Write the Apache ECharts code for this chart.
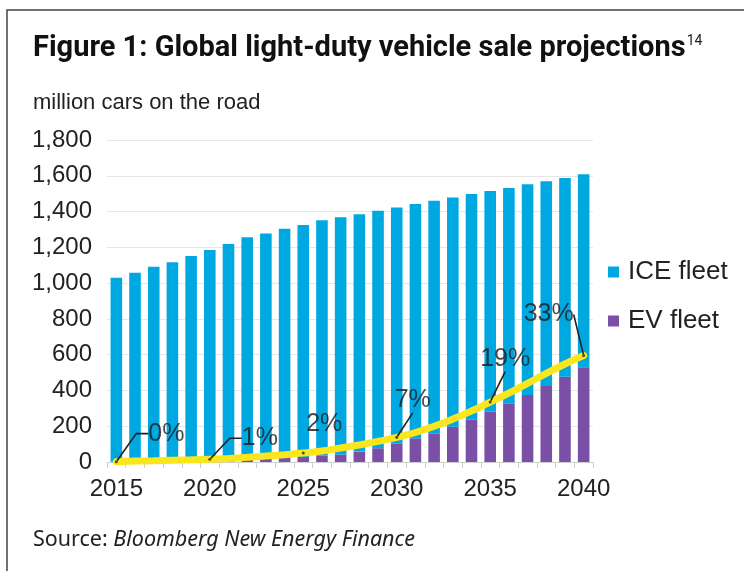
<!DOCTYPE html>
<html>
<head>
<meta charset="utf-8">
<script src="https://cdn.jsdelivr.net/npm/echarts@6/dist/echarts.min.js"></script>
<style>
    html, body { margin: 0; padding: 0; background: #fff; }
    #chart { width: 744px; height: 571px; }
</style>
</head>
<body>
<div id="chart"></div>
<script>
// 年份
const years = ['2015', '2016', '2017', '2018', '2019', '2020', '2021', '2022', '2023', '2024',
    '2025', '2026', '2027', '2028', '2029', '2030', '2031', '2032', '2033', '2034',
    '2035', '2036', '2037', '2038', '2039', '2040'];

// 电动车保有量（百万辆）
const evFleet = [1, 2, 3, 5, 7, 9, 12, 15, 19, 23,
    28, 35, 42, 58, 77, 104, 132, 160, 197, 238,
    281, 328, 375, 425, 477, 529];

// 燃油车保有量（百万辆）
const iceFleet = [1029, 1056, 1089, 1111, 1145, 1176, 1207, 1241, 1259, 1281,
    1297, 1316, 1326, 1327, 1328, 1318, 1310, 1301, 1281, 1260,
    1234, 1204, 1177, 1144, 1111, 1079];

// 黄色趋势线
const trendLine = [2, 5, 7, 10, 12, 15, 20, 26, 33, 41,
    50, 62, 78, 95, 115, 138, 165, 200, 240, 285,
    335, 385, 440, 495, 548, 595];

// 百分比标注
const shareYears = ['2015', '2020', '2025', '2030', '2035', '2040'];
const shareLabels = ['0%', '1%', '2%', '7%', '19%', '33%'];

// 标注偏移
const labelOffsets = [[50, -28], [50, -21], [21, -29], [16, -37], [15, -43], [-35, -41]];
const labelLineOn = [true, true, false, true, true, true];
const labelLineLen = [12, 12, 0, 0, 0, 0];

const yTicks = [0, 200, 400, 600, 800, 1000, 1200, 1400, 1600, 1800];

const chart = echarts.init(document.getElementById('chart'));

const shareData = shareYears.map(function (y, i) {
    return {
        value: [y, trendLine[years.indexOf(y)]],
        name: shareLabels[i],
        labelLine: {
            show: labelLineOn[i],
            length2: labelLineLen[i],
            lineStyle: { color: '#222', width: 1.6 }
        }
    };
});

const option = {
    animation: false,
    title: [{
        text: '{a|Figure 1: Global light-duty vehicle sale projections}{s|14}',
        left: 28,
        top: 29,
        textStyle: {
            rich: {
                a: { fontFamily: 'Roboto', fontWeight: 'bold', fontSize: 29, color: '#111' },
                s: { fontFamily: 'Roboto', fontWeight: 'normal', fontSize: 14, color: '#222', verticalAlign: 'top', padding: [0, 0, 16, 1] }
            }
        }
    }, {
        text: 'million cars on the road',
        left: 28,
        top: 87,
        textStyle: { fontFamily: 'Liberation Sans', fontWeight: 'normal', fontSize: 22, color: '#222' }
    }, {
        text: '{r|Source: }{i|Bloomberg New Energy Finance}',
        left: 28,
        top: 524,
        textStyle: {
            rich: {
                r: { fontFamily: 'Noto Sans', fontWeight: 'normal', fontSize: 21.5, color: '#222' },
                i: { fontFamily: 'Noto Sans', fontWeight: 'normal', fontSize: 21.5, fontStyle: 'italic', color: '#222' }
            }
        }
    }],
    graphic: [{
        type: 'rect',
        shape: { x: 7, y: 10, width: 800, height: 600 },
        style: { fill: 'none', stroke: '#444', lineWidth: 1.5 },
        silent: true
    }],
    legend: {
        orient: 'vertical',
        left: 603,
        top: 254,
        itemWidth: 11,
        itemHeight: 11,
        itemGap: 23,
        icon: 'rect',
        data: ['ICE fleet', 'EV fleet'],
        textStyle: { fontFamily: 'Liberation Sans', fontSize: 26, color: '#222', padding: [0, 0, 0, 4] }
    },
    grid: { left: 107, right: 151, top: 140, bottom: 109 },
    xAxis: {
        type: 'category',
        data: years,
        axisLine: { lineStyle: { color: '#cfcfcf', width: 1 } },
        axisTick: { show: true, interval: 0, length: 6, lineStyle: { color: '#cfcfcf' } },
        axisLabel: {
            interval: 4,
            margin: 15,
            fontFamily: 'Liberation Sans',
            fontSize: 24,
            color: '#222'
        }
    },
    yAxis: {
        type: 'value',
        min: 0,
        max: yTicks[yTicks.length - 1],
        interval: 200,
        axisLine: { show: false },
        axisTick: { show: false },
        splitLine: { lineStyle: { color: '#e6e6e6', width: 1 } },
        axisLabel: {
            margin: 15,
            fontFamily: 'Liberation Sans',
            fontSize: 24,
            color: '#222',
            formatter: function (v) { return v.toLocaleString('en-US'); }
        }
    },
    series: [{
        name: 'EV fleet',
        type: 'bar',
        stack: 'fleet',
        barWidth: '62%',
        itemStyle: { color: '#7950a6' },
        data: evFleet
    }, {
        name: 'ICE fleet',
        type: 'bar',
        stack: 'fleet',
        barWidth: '62%',
        itemStyle: { color: '#00a8e1' },
        data: iceFleet
    }, {
        name: 'trend',
        type: 'line',
        smooth: true,
        symbol: 'none',
        z: 5,
        lineStyle: { color: '#fbe51c', width: 7, cap: 'round' },
        data: trendLine
    }, {
        name: 'share',
        type: 'scatter',
        symbol: 'circle',
        symbolSize: 3,
        z: 6,
        itemStyle: { color: '#222' },
        label: {
            show: true,
            position: 'inside',
            formatter: '{b}',
            fontFamily: 'Liberation Sans',
            fontSize: 25,
            color: '#1a1a1a'
        },
        labelLayout: function (params) {
            const off = labelOffsets[params.dataIndex];
            return { dx: off[0], dy: off[1] };
        },
        labelLine: { show: true, lineStyle: { color: '#222', width: 1.6 } },
        data: shareData
    }]
};

chart.setOption(option);

window.addEventListener('resize', function () {
    chart.resize();
});
</script>
</body>
</html>
